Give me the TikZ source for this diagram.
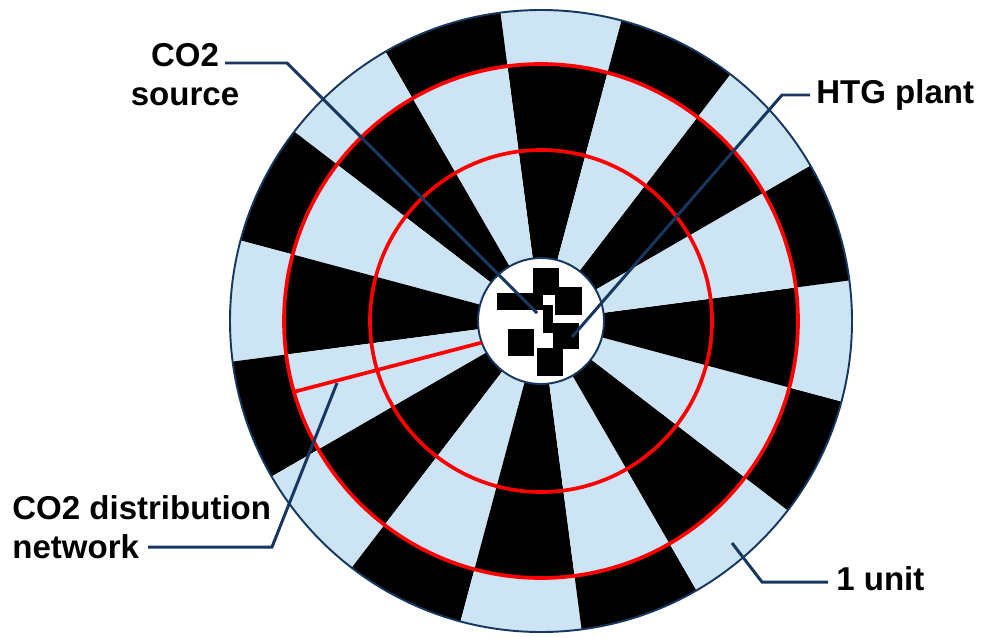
\documentclass[tikz,border=0pt]{standalone}
\usepackage{fontspec}
\setmainfont{Liberation Sans}
\usetikzlibrary{calc}
\definecolor{boardBlue}{HTML}{CDE4F5}
\definecolor{navyLine}{HTML}{17375E}
\definecolor{ringRed}{HTML}{FF0000}

\begin{document}
\begin{tikzpicture}[
  x=0.02cm, y=0.02cm,
  font=\fontsize{18.8}{22}\selectfont\bfseries,
  lbl/.style={inner sep=0pt, text=black},
  leader/.style={draw=navyLine, line width=1.7pt, line join=miter},
  ring/.style={draw=ringRed, line width=2.1pt},
  rim/.style={draw=navyLine, line width=1.1pt},
  site/.style={fill=black},
]
\useasboundingbox (0,0) rectangle (986,637);

% ---------------- BOARD (16 sectors, swapped in the rim) ----------------
\coordinate (C) at (541,316);
\begin{scope}[shift={(C)}]
  \foreach \k in {0,...,15} {
    \pgfmathsetmacro{\a}{75+22.5*\k}
    \pgfmathsetmacro{\b}{\a+22.5}
    \ifodd\k \def\inC{boardBlue}\def\outC{black}\else \def\inC{black}\def\outC{boardBlue}\fi
    \fill[\inC] (0,0) -- (\a:257) arc[start angle=\a, end angle=\b, radius=257] -- cycle;
    \fill[\outC] (\a:257) arc[start angle=\a, end angle=\b, radius=257]
      -- (\b:311) arc[start angle=\b, end angle=\a, radius=311] -- cycle;
  }
  \draw[rim] (0,0) circle[radius=311];
  \draw[ring] (0,0) circle[radius=171];
  \draw[ring] (0,0) circle[radius=257];
  \filldraw[fill=white, rim] (0,0) circle[radius=63];
  % distribution branch
  \coordinate (netIn) at (200:63);
  \coordinate (netOut) at (196:257);
  \draw[ring] (netIn) -- (netOut);
\end{scope}

% ---------------- SITES (hub cluster) ----------------
\fill[site] (533,342) rectangle (559,369);
\fill[site] (497,327) rectangle (543,344);
\fill[site] (555,322) rectangle (582,350);
\fill[site] (543,304) rectangle (553,332);
\fill[site] (508,281) rectangle (534,308);
\fill[site] (553,288) rectangle (579,314);
\fill[site] (537,261) rectangle (563,289);

% ---------------- LABELS ----------------
\node[lbl, align=center, anchor=base] (srcLbl) at (185,532) {CO2\\source};
\node[lbl, anchor=base west] (htgLbl) at (816,534) {HTG plant};
\node[lbl, align=left, anchor=base west] (netLbl) at (12,79) {CO2 distribution\\network};
\node[lbl, anchor=base west] (unitLbl) at (836,47) {1 unit};

% ---------------- LEADERS ----------------
\coordinate (srcStart) at (225,574);
\coordinate (srcKnee) at (287,574);
\coordinate (srcEnd) at (537,324);
\draw[leader] (srcStart) -- (srcKnee) -- (srcEnd);

\coordinate (htgStart) at (810,542);
\coordinate (htgKnee) at (782,542);
\coordinate (htgEnd) at (572,300);
\draw[leader] (htgStart) -- (htgKnee) -- (htgEnd);

\coordinate (netStart) at (148,90);
\coordinate (netKnee) at (272,90);
\coordinate (netEnd) at (337,254);
\draw[leader] (netStart) -- (netKnee) -- (netEnd);

\coordinate (unitStart) at (828,55);
\coordinate (unitKnee) at (762,55);
\coordinate (unitEnd) at (732,94);
\draw[leader] (unitStart) -- (unitKnee) -- (unitEnd);
\end{tikzpicture}
\end{document}
